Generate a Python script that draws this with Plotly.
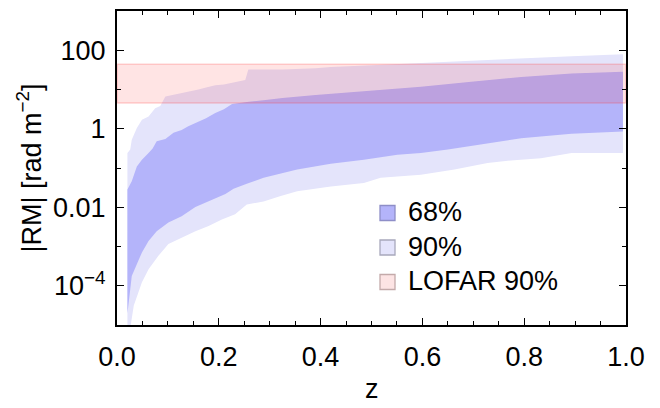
import plotly.graph_objects as go

# ---- data ----
z90_hi = [0.0205, 0.026, 0.029, 0.039, 0.049, 0.062, 0.075, 0.085, 0.095, 0.11, 0.127, 0.145,
          0.16, 0.175, 0.193, 0.21, 0.226, 0.252, 0.258, 0.325, 0.39, 0.42, 0.5, 0.597, 0.7,
          0.794, 0.893, 0.994]
rm90_hi = [0.240, 0.295, 0.525, 1.05, 1.70, 2.04, 3.31, 3.80, 6.61, 7.24, 7.94, 8.91,
           10.0, 11.2, 12.9, 13.5, 14.8, 17.4, 32.4, 32.4, 34.7, 37.2, 41.7, 47.9, 53.7,
           61.7, 70.8, 79.4]

z90_lo = [0.0205, 0.027, 0.033, 0.039, 0.049, 0.062, 0.081, 0.101, 0.127, 0.154, 0.18, 0.206,
          0.232, 0.255, 0.288, 0.32, 0.354, 0.42, 0.485, 0.518, 0.597, 0.663, 0.728, 0.78,
          0.833, 0.893, 0.994]
rm90_lo = [4.0e-6, 1.0e-5, 3.16e-5, 5.62e-5, 1.23e-4, 2.63e-4, 5.75e-4, 1.15e-3, 1.70e-3,
           2.45e-3, 3.31e-3, 4.90e-3, 6.61e-3, 0.0117, 0.0141, 0.0191, 0.0257, 0.0339, 0.0417,
           0.0562, 0.0676, 0.0912, 0.135, 0.158, 0.178, 0.240, 0.240]

z68_hi = [0.0205, 0.029, 0.039, 0.049, 0.062, 0.070, 0.078, 0.095, 0.111, 0.127, 0.14, 0.16,
          0.175, 0.193, 0.21, 0.226, 0.259, 0.292, 0.325, 0.39, 0.45, 0.5, 0.597, 0.696,
          0.794, 0.893, 0.994]
rm68_hi = [0.0282, 0.0457, 0.110, 0.162, 0.240, 0.316, 0.479, 0.550, 0.794, 0.933, 1.15, 1.51,
           1.86, 2.51, 3.16, 4.27, 4.90, 5.37, 6.03, 7.24, 8.32, 9.33, 11.7, 15.8,
           20.9, 25.7, 28.2]

z68_lo = [0.0205, 0.025, 0.029, 0.039, 0.049, 0.062, 0.078, 0.101, 0.127, 0.154, 0.18, 0.213,
          0.229, 0.255, 0.288, 0.32, 0.354, 0.42, 0.485, 0.551, 0.597, 0.65, 0.696, 0.75,
          0.794, 0.893, 0.994]
rm68_lo = [2.0e-5, 6.3e-5, 1.78e-4, 3.55e-4, 7.08e-4, 1.38e-3, 2.45e-3, 4.07e-3, 5.89e-3,
           0.0102, 0.0141, 0.0219, 0.0295, 0.0398, 0.0562, 0.0708, 0.0912, 0.129, 0.162,
           0.219, 0.240, 0.295, 0.355, 0.468, 0.575, 0.741, 0.851]

lofar_z = [0.0, 1.0]
lofar_lo = 4.5
lofar_hi = 44.0

legend_names = ["68%", "90%", "LOFAR 90%"]
y_tickvals = [1e-4, 0.01, 1, 100]
y_ticktext = ["10<sup>−4</sup>", "0.01", "1", "100"]
x_tickvals = [0.0, 0.2, 0.4, 0.6, 0.8, 1.0]
x_ticktext = ["0.0", "0.2", "0.4", "0.6", "0.8", "1.0"]
x_title = "z"
y_title = "|RM| [rad m<sup>−2</sup>]"

C90 = "#e4e4fb"
C68 = "#b4b4fa"
FONT = "Liberation Sans, Arial, sans-serif"
FS = 27

fig = go.Figure()

fig.add_trace(go.Scatter(
    x=z90_hi + z90_lo[::-1], y=rm90_hi + rm90_lo[::-1],
    fill="toself", fillcolor=C90, mode="lines", line=dict(width=0),
    name=legend_names[1], showlegend=False, hoverinfo="skip"))
fig.add_trace(go.Scatter(
    x=z68_hi + z68_lo[::-1], y=rm68_hi + rm68_lo[::-1],
    fill="toself", fillcolor=C68, mode="lines", line=dict(width=0),
    name=legend_names[0], showlegend=False, hoverinfo="skip"))
fig.add_trace(go.Scatter(
    x=[lofar_z[0], lofar_z[1], lofar_z[1], lofar_z[0], lofar_z[0]],
    y=[lofar_lo, lofar_lo, lofar_hi, lofar_hi, lofar_lo],
    fill="toself", fillcolor="rgba(255,0,0,0.105)", mode="lines",
    line=dict(width=1.5, color="rgba(255,60,60,0.22)"),
    name=legend_names[2], showlegend=False, hoverinfo="skip"))

# ---- legend drawn as swatches + text (plot area: x 117..626 px, y 11..325 px) ----
PX0, PW, PY1, PH = 117.0, 509.0, 325.0, 314.0
leg_fill = [C68, C90, "#fde4e4"]
leg_line = ["#8e8ec8", "#a8a8bc", "#c4aaaa"]
leg_yc = [213, 247.5, 282]     # px centres of the legend rows
sw_x0, sw_x1, txt_x, half = 380, 395, 406, 7.5
for name, fc, lc, yc in zip(legend_names, leg_fill, leg_line, leg_yc):
    fig.add_shape(type="rect", xref="paper", yref="paper",
                  x0=(sw_x0 - PX0) / PW, x1=(sw_x1 - PX0) / PW,
                  y0=(PY1 - yc - half) / PH, y1=(PY1 - yc + half) / PH,
                  fillcolor=fc, line=dict(color=lc, width=1.3), layer="above")
    fig.add_annotation(text=name, xref="paper", yref="paper",
                       x=(txt_x - PX0) / PW, y=(PY1 - yc + 1) / PH,
                       xanchor="left", yanchor="middle", showarrow=False,
                       font=dict(family=FONT, size=FS, color="black"))

# x-axis title placed below the tick labels
fig.add_annotation(text=x_title, xref="paper", yref="paper",
                   x=0.5, y=(PY1 - 389) / PH, xanchor="center", yanchor="middle",
                   showarrow=False, font=dict(family=FONT, size=FS, color="black"))

axis_common = dict(
    showline=True, linecolor="black", linewidth=2, mirror="ticks",
    ticks="inside", ticklen=7, tickwidth=1.3, tickcolor="black",
    showgrid=False, zeroline=False, automargin=False,
    tickfont=dict(family=FONT, size=FS, color="black"),
)

fig.update_xaxes(
    range=[0, 1], tickmode="array", tickvals=x_tickvals, ticktext=x_ticktext,
    minor=dict(dtick=0.05, ticks="inside", ticklen=4, tickwidth=1.1, tickcolor="black"),
    ticklabelstandoff=7,
    **axis_common)
fig.update_yaxes(
    type="log", range=[-5, 3], tickmode="array", tickvals=y_tickvals, ticktext=y_ticktext,
    minor=dict(tickmode="array", tickvals=[1e-3, 0.1, 10, 1000], ticks="inside",
               ticklen=4, tickwidth=1.1, tickcolor="black"),
    title=dict(text=y_title, font=dict(family=FONT, size=FS, color="black"), standoff=4),
    ticklabelstandoff=4,
    **axis_common)

fig.update_layout(
    width=660, height=408,
    margin=dict(l=117, r=34, t=11, b=83),
    paper_bgcolor="white", plot_bgcolor="white",
    font=dict(family=FONT, size=FS, color="black"),
    showlegend=False,
)

fig.write_html("out.html")
